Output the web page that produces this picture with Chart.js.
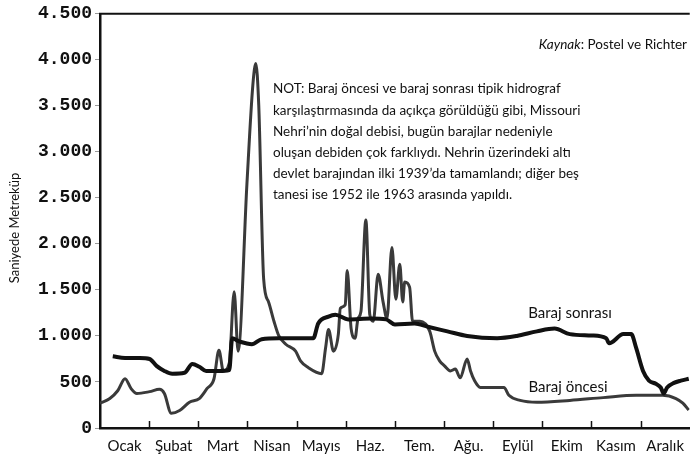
<!DOCTYPE html>
<html>
<head>
<meta charset="utf-8">
<script src="https://cdn.jsdelivr.net/npm/chart.js@4/dist/chart.umd.min.js"></script>
<style>
  html, body { margin: 0; padding: 0; background: #fff; }
  #wrap { width: 693px; height: 460px; position: relative; }
</style>
</head>
<body>
<div id="wrap"><canvas id="c" width="693" height="460"></canvas></div>
<script>
// Missouri hidrograf — baraj öncesi / sonrası (m³/s), x = ay (0..12)
const months = ["Ocak", "Şubat", "Mart", "Nisan", "Mayıs", "Haz.", "Tem.", "Ağu.", "Eylül", "Ekim", "Kasım", "Aralık"];
const yTicks = [0, 500, 1000, 1500, 2000, 2500, 3000, 3500, 4000, 4500];

const preX = [0.00, 0.20, 0.36, 0.51, 0.63, 0.75, 1.01, 1.21, 1.31, 1.45, 1.62, 1.82, 2.02, 2.18, 2.32, 2.42, 2.51, 2.63, 2.73, 2.81, 2.99, 3.11, 3.17, 3.23, 3.33, 3.43, 3.54, 3.64, 3.78, 3.98, 4.08, 4.24, 4.51, 4.59, 4.65, 4.75, 4.85, 4.89, 4.99, 5.03, 5.11, 5.19, 5.25, 5.31, 5.41, 5.49, 5.56, 5.66, 5.76, 5.84, 5.94, 6.02, 6.10, 6.16, 6.20, 6.30, 6.36, 6.51, 6.71, 6.81, 6.91, 7.01, 7.13, 7.23, 7.33, 7.47, 7.54, 7.62, 7.74, 8.22, 8.32, 8.55, 8.89, 9.56, 10.24, 10.91, 11.45, 11.72, 11.86, 11.98];
const preY = [270, 320, 405, 535, 430, 375, 395, 420, 375, 160, 190, 280, 320, 430, 535, 845, 620, 705, 1480, 835, 2655, 3725, 3960, 3510, 1620, 1370, 1160, 1000, 910, 835, 730, 655, 590, 870, 1070, 835, 1020, 1300, 1340, 1710, 1080, 975, 1190, 1265, 2260, 1230, 1160, 1670, 1370, 1190, 1960, 1400, 1780, 1370, 1585, 1530, 1160, 1160, 1050, 835, 730, 675, 620, 640, 545, 750, 620, 515, 440, 440, 355, 300, 280, 300, 330, 355, 355, 320, 270, 195];

const postX = [0.26, 0.51, 0.81, 1.01, 1.15, 1.31, 1.47, 1.72, 1.88, 2.02, 2.16, 2.42, 2.63, 2.69, 2.83, 2.97, 3.09, 3.29, 3.64, 3.98, 4.34, 4.44, 4.65, 4.79, 5.05, 5.52, 5.82, 6.00, 6.40, 6.67, 7.07, 7.47, 8.08, 8.48, 8.89, 9.25, 9.56, 10.00, 10.30, 10.36, 10.65, 10.81, 10.91, 11.05, 11.17, 11.31, 11.41, 11.47, 11.54, 11.68, 11.82, 11.98];
const postY = [780, 760, 760, 750, 675, 620, 590, 600, 695, 665, 620, 620, 630, 975, 940, 920, 910, 965, 975, 975, 975, 1135, 1210, 1230, 1180, 1190, 1180, 1125, 1135, 1100, 1050, 1000, 975, 1000, 1050, 1080, 1020, 1005, 975, 920, 1020, 1020, 870, 620, 515, 480, 440, 375, 440, 490, 515, 535];

const noteLines = [
  "NOT: Baraj öncesi ve baraj sonrası tipik hidrograf",
  "karşılaştırmasında da açıkça görüldüğü gibi, Missouri",
  "Nehri’nin doğal debisi, bugün barajlar nedeniyle",
  "oluşan debiden çok farklıydı. Nehrin üzerindeki altı",
  "devlet barajından ilki 1939’da tamamlandı; diğer beş",
  "tanesi ise 1952 ile 1963 arasında yapıldı."
];

const sans = "Lato, 'DejaVu Sans', sans-serif";
const pts = (xs, ys) => xs.map((x, i) => ({ x, y: ys[i] }));
const fmtNum = (v) => v >= 1000 ? Math.floor(v / 1000) + "." + String(v % 1000).padStart(3, "0") : String(v);

const decor = {
  id: "decor",
  afterDraw(chart) {
    const { ctx, chartArea: a, scales } = chart;
    const x = scales.x;
    ctx.save();
    // top frame line
    ctx.strokeStyle = "#111"; ctx.lineWidth = 2;
    ctx.beginPath(); ctx.moveTo(a.left - 1, a.top); ctx.lineTo(a.right, a.top); ctx.stroke();
    // inward month ticks
    ctx.lineWidth = 1.5;
    for (let i = 1; i < 12; i++) {
      const px = Math.round(x.getPixelForValue(i)) + 0.5;
      ctx.beginPath(); ctx.moveTo(px, a.bottom); ctx.lineTo(px, a.bottom - 7); ctx.stroke();
    }
    // y title
    ctx.fillStyle = "#111";
    ctx.font = "13px " + sans;
    ctx.translate(15, 228); ctx.rotate(-Math.PI / 2);
    ctx.textAlign = "center"; ctx.textBaseline = "middle";
    ctx.fillText("Saniyede Metreküp", 0, 0);
    ctx.setTransform(1, 0, 0, 1, 0, 0);
    // source
    ctx.textBaseline = "middle"; ctx.textAlign = "left";
    const k = "Kaynak";
    const rest = ": Postel ve Richter";
    ctx.font = "13.5px " + sans;
    const wRest = ctx.measureText(rest).width;
    ctx.font = "italic 13.5px " + sans;
    const wK = ctx.measureText(k).width;
    const sx = 687 - wRest - wK;
    ctx.fillText(k, sx, 45);
    ctx.font = "13.5px " + sans;
    ctx.fillText(rest, sx + wK, 45);
    // note
    ctx.font = "13.5px " + sans;
    noteLines.forEach((t, i) => ctx.fillText(t, 273, 89 + i * 21.2));
    // series labels
    ctx.font = "15px " + sans;
    ctx.textAlign = "center";
    ctx.fillText("Baraj sonrası", 570, 313);
    ctx.fillText("Baraj öncesi", 568, 387);
    ctx.restore();
  }
};

new Chart(document.getElementById("c"), {
  type: "line",
  data: {
    datasets: [
      { label: "Baraj öncesi", data: pts(preX, preY), borderColor: "#3a3a3a", borderWidth: 3, pointRadius: 0, cubicInterpolationMode: "monotone", order: 2 },
      { label: "Baraj sonrası", data: pts(postX, postY), borderColor: "#111", borderWidth: 4, pointRadius: 0, cubicInterpolationMode: "monotone", order: 1 },
    ]
  },
  options: {
    responsive: false,
    animation: false,
    layout: { padding: { top: 8, right: 0, left: 0, bottom: 0 } },
    plugins: { legend: { display: false }, tooltip: { enabled: false } },
    scales: {
      x: {
        type: "linear", min: 0, max: 12,
        afterBuildTicks: (s) => { s.ticks = months.map((m, i) => ({ value: i + 0.5 })); },
        afterFit: (s) => { s.height = 32; },
        ticks: { callback: (v, i) => months[i], color: "#111", font: { family: sans, size: 15 }, padding: 9, maxRotation: 0, autoSkip: false },
        grid: { display: true, drawOnChartArea: false, drawTicks: false },
        border: { color: "#111", width: 2.5 }
      },
      y: {
        min: 0, max: 4500,
        afterBuildTicks: (s) => { s.ticks = yTicks.map(v => ({ value: v })); },
        afterFit: (s) => { s.width = 100; },
        ticks: { callback: (v) => fmtNum(v), color: "#111", font: { family: "'Liberation Mono', monospace", size: 18, weight: "bold" }, padding: 3 },
        grid: { drawOnChartArea: false, drawTicks: true, tickLength: 5, color: "#999" },
        border: { color: "#111", width: 2.5 }
      }
    }
  },
  plugins: [decor]
});
</script>
</body>
</html>
